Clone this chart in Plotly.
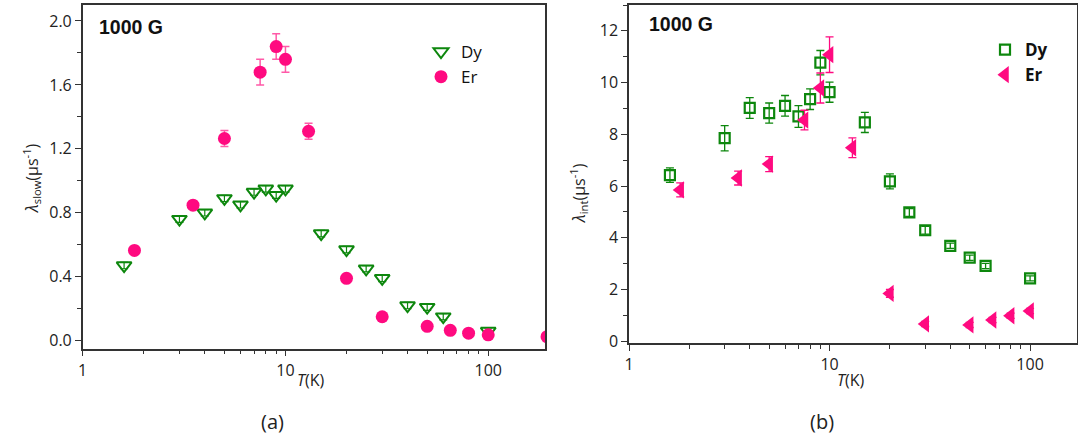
import plotly.graph_objects as go

# ---------------- data ----------------
# panel (a): lambda_slow vs T
T_dy_a = [1.6, 3, 4, 5, 6, 7, 8, 9, 10, 15, 20, 25, 30, 40, 50, 60, 100]
lam_dy_a = [0.47, 0.76, 0.80, 0.89, 0.85, 0.93, 0.95, 0.91, 0.95, 0.67, 0.57, 0.45, 0.39, 0.22, 0.21, 0.15, 0.06]
err_dy_a = [0.02, 0.02, 0.02, 0.02, 0.02, 0.02, 0.02, 0.02, 0.02, 0.02, 0.02, 0.02, 0.02, 0.02, 0.02, 0.02, 0.02]

T_er_a = [1.8, 3.5, 5, 7.5, 9, 10, 13, 20, 30, 50, 65, 80, 100, 195]
lam_er_a = [0.565, 0.848, 1.265, 1.68, 1.84, 1.76, 1.31, 0.39, 0.15, 0.09, 0.065, 0.047, 0.037, 0.025]
err_er_a = [0.01, 0.01, 0.05, 0.08, 0.08, 0.08, 0.05, 0.01, 0.01, 0.01, 0.01, 0.01, 0.01, 0.01]

# panel (b): lambda_int vs T
T_dy_b = [1.6, 3, 4, 5, 6, 7, 8, 9, 10, 15, 20, 25, 30, 40, 50, 60, 100]
lam_dy_b = [6.42, 7.85, 9.02, 8.82, 9.10, 8.69, 9.36, 10.77, 9.63, 8.46, 6.18, 4.98, 4.29, 3.69, 3.23, 2.91, 2.43]
err_dy_b = [0.28, 0.49, 0.40, 0.39, 0.40, 0.42, 0.40, 0.47, 0.39, 0.39, 0.29, 0.15, 0.15, 0.1, 0.1, 0.1, 0.1]

T_er_b = [1.8, 3.5, 5, 7.5, 9, 10, 13, 20, 30, 50, 65, 80, 100]
lam_er_b = [5.85, 6.31, 6.85, 8.55, 9.79, 11.08, 7.48, 1.85, 0.67, 0.63, 0.82, 0.985, 1.17]
err_er_b = [0.27, 0.27, 0.29, 0.38, 0.58, 0.69, 0.38, 0.15, 0.1, 0.1, 0.1, 0.1, 0.1]

x_ticks = [1, 10, 100]
x_minor = [2, 3, 4, 5, 6, 7, 8, 9, 20, 30, 40, 50, 60, 70, 80, 90, 200]

# ---------------- style ----------------
W, H = 1078, 437
GREEN = "#0d870d"
PINK = "#ff0a80"
PINK_ERR = "#ff5aa8"
AX = "#333333"
FONT = "Open Sans"

def px_x(p):
    return p / W

def px_y(p):
    return 1 - p / H

fig = go.Figure()

fig.add_trace(go.Scatter(
    x=T_dy_a, y=lam_dy_a, mode="markers", name="Dy", legend="legend",
    marker=dict(symbol="triangle-down-open", size=13, color=GREEN, line=dict(width=2, color=GREEN)),
    error_y=dict(type="data", array=err_dy_a, color=GREEN, thickness=1.2, width=4),
    xaxis="x", yaxis="y"))
fig.add_trace(go.Scatter(
    x=T_er_a, y=lam_er_a, mode="markers", name="Er", legend="legend",
    marker=dict(symbol="circle", size=13, color=PINK),
    error_y=dict(type="data", array=err_er_a, color=PINK_ERR, thickness=1.5, width=4),
    xaxis="x", yaxis="y"))

fig.add_trace(go.Scatter(
    x=T_dy_b, y=lam_dy_b, mode="markers", name="Dy", legend="legend2",
    marker=dict(symbol="square-open", size=10, color=GREEN, line=dict(width=2.2, color=GREEN)),
    error_y=dict(type="data", array=err_dy_b, color=GREEN, thickness=1.3, width=4),
    xaxis="x2", yaxis="y2"))
fig.add_trace(go.Scatter(
    x=T_er_b, y=lam_er_b, mode="markers", name="Er", legend="legend2",
    marker=dict(symbol="triangle-left", size=15, color=PINK),
    error_y=dict(type="data", array=err_er_b, color=PINK, thickness=1.3, width=4),
    xaxis="x2", yaxis="y2"))

tickfont = dict(family=FONT, size=16, color="#222")

def xaxis(domain, rng, anchor):
    return dict(type="log", domain=domain, range=rng, anchor=anchor, automargin=False,
                tickvals=x_ticks, ticktext=[str(v) for v in x_ticks],
                ticks="outside", ticklen=6, tickwidth=1.3, tickcolor=AX,
                minor=dict(tickvals=x_minor, ticks="outside", ticklen=4, tickwidth=1.2, tickcolor=AX, showgrid=False),
                showline=True, linecolor=AX, linewidth=1.5, mirror=True,
                showgrid=False, zeroline=False, tickfont=tickfont)

def yaxis(domain, rng, dtick, mdtick, fmt, anchor):
    return dict(domain=domain, range=rng, anchor=anchor, tick0=0, dtick=dtick, tickformat=fmt, automargin=False,
                ticks="outside", ticklen=6, tickwidth=1.3, tickcolor=AX,
                minor=dict(dtick=mdtick, tick0=0, ticks="outside", ticklen=4, tickwidth=1.2, tickcolor=AX, showgrid=False),
                showline=True, linecolor=AX, linewidth=1.5, mirror=True,
                showgrid=False, zeroline=False, tickfont=tickfont)

fig.update_layout(
    template="none",
    width=W, height=H,
    margin=dict(l=0, r=0, t=0, b=0, pad=0),
    paper_bgcolor="white", plot_bgcolor="white",
    xaxis=xaxis([px_x(82.7), px_x(545)], [0, 2.28], "y"),
    yaxis=yaxis([px_y(348.7), px_y(5)], [-0.05, 2.1], 0.4, 0.2, ".1f", "x"),
    xaxis2=xaxis([px_x(629), px_x(1077)], [0, 2.234], "y2"),
    yaxis2=yaxis([px_y(343.3), px_y(5)], [-0.08, 13], 2, 1, "d", "x2"),
    legend=dict(x=px_x(421), y=px_y(34), xanchor="left", yanchor="top",
                font=dict(family=FONT, size=17, color="#111"), bgcolor="rgba(0,0,0,0)",
                tracegroupgap=0, itemwidth=30),
    legend2=dict(x=px_x(985), y=px_y(32), xanchor="left", yanchor="top",
                 font=dict(family=FONT, size=17, color="#111", weight="bold"), bgcolor="rgba(0,0,0,0)",
                 tracegroupgap=0, itemwidth=30),
    showlegend=True,
)

ann = []
ann.append(dict(text="<b>1000 G</b>", x=px_x(97), y=px_y(27), xref="paper", yref="paper",
                xanchor="left", yanchor="middle", showarrow=False,
                font=dict(family="Liberation Sans", size=19.5, color="#111")))
ann.append(dict(text="<b>1000 G</b>", x=px_x(647), y=px_y(24.5), xref="paper", yref="paper",
                xanchor="left", yanchor="middle", showarrow=False,
                font=dict(family="Liberation Sans", size=19.5, color="#111")))
ann.append(dict(text="<i>T</i>(K)", x=px_x(311), y=px_y(380), xref="paper", yref="paper",
                xanchor="center", yanchor="middle", showarrow=False,
                font=dict(family=FONT, size=16, color="#222")))
ann.append(dict(text="<i>T</i>(K)", x=px_x(851), y=px_y(380), xref="paper", yref="paper",
                xanchor="center", yanchor="middle", showarrow=False,
                font=dict(family=FONT, size=16, color="#222")))
ann.append(dict(text="(a)", x=px_x(273), y=px_y(421), xref="paper", yref="paper",
                xanchor="center", yanchor="middle", showarrow=False,
                font=dict(family=FONT, size=20, color="#222")))
ann.append(dict(text="(b)", x=px_x(822), y=px_y(421), xref="paper", yref="paper",
                xanchor="center", yanchor="middle", showarrow=False,
                font=dict(family=FONT, size=20, color="#222")))
ann.append(dict(text="<i>λ</i><sub>slow</sub>(μs<sup>-1</sup>)", x=px_x(31), y=px_y(178), xref="paper", yref="paper",
                xanchor="center", yanchor="middle", showarrow=False, textangle=-90,
                font=dict(family=FONT, size=16, color="#222")))
ann.append(dict(text="<i>λ</i><sub>int</sub>(μs<sup>-1</sup>)", x=px_x(578), y=px_y(193), xref="paper", yref="paper",
                xanchor="center", yanchor="middle", showarrow=False, textangle=-90,
                font=dict(family=FONT, size=16, color="#222")))
fig.update_layout(annotations=ann)

fig.write_html("out.html", config={"displayModeBar": False},
               post_script="document.body.style.margin='0px';document.body.style.overflow='hidden';")
